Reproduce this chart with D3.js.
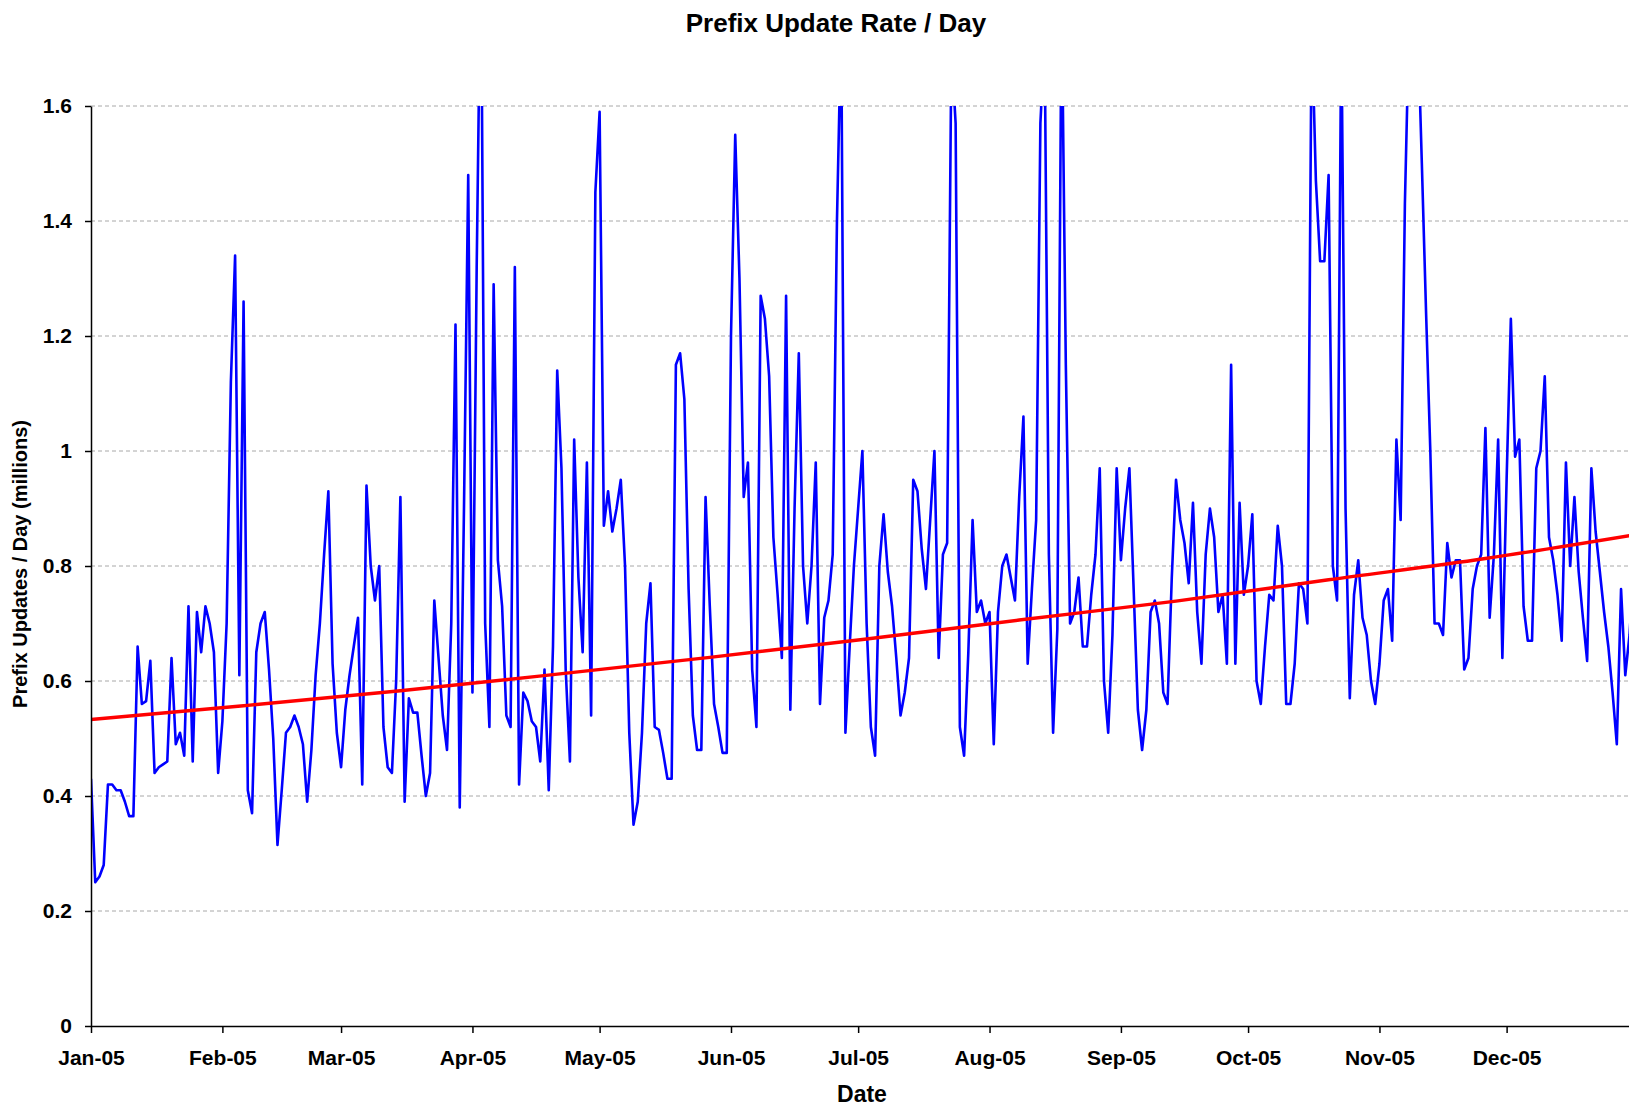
<!DOCTYPE html>
<html>
<head>
<meta charset="utf-8">
<script src="https://cdn.jsdelivr.net/npm/d3@7"></script>
<style>
  body { margin: 0; background: #fff; }
  svg { display: block; font-family: "Liberation Sans", Arial, sans-serif; }
</style>
</head>
<body>
<div id="chart"></div>
<script>
// chart texts
const chartTitle = 'Prefix Update Rate / Day'
const yTitle = 'Prefix Updates / Day (millions)'
const xTitle = 'Date'

// x axis: one tick per month
const startDay = '2005-01-01'
const monthLabels = ['Jan-05', 'Feb-05', 'Mar-05', 'Apr-05', 'May-05', 'Jun-05',
    'Jul-05', 'Aug-05', 'Sep-05', 'Oct-05', 'Nov-05', 'Dec-05']

// y axis
const yTicks = [0, 0.2, 0.4, 0.6, 0.8, 1, 1.2, 1.4, 1.6]
const yTickLabels = ['0', '0.2', '0.4', '0.6', '0.8', '1', '1.2', '1.4', '1.6']

// prefix updates per day (millions), one value per day from 1 Jan 2005
const dailyUpdates = [
    0.43, 0.25, 0.26, 0.28, 0.42, 0.42, 0.41, 0.41, 0.39, 0.365,   // Jan
    0.365, 0.66, 0.56, 0.565, 0.635, 0.44, 0.45, 0.455, 0.46, 0.64,
    0.49, 0.51, 0.47, 0.73, 0.46, 0.72, 0.65, 0.73, 0.70, 0.65,
    0.44,
    0.53, 0.70, 1.12, 1.34, 0.61, 1.26, 0.41, 0.37, 0.65, 0.70,   // Feb
    0.72, 0.62, 0.50, 0.315, 0.41, 0.51, 0.52, 0.54, 0.52, 0.49,
    0.39, 0.48, 0.61, 0.70, 0.82, 0.93, 0.63, 0.51,
    0.45, 0.55, 0.61, 0.66, 0.71, 0.42, 0.94, 0.80, 0.74, 0.80,   // Mar
    0.52, 0.45, 0.44, 0.60, 0.92, 0.39, 0.57, 0.545, 0.545, 0.47,
    0.40, 0.44, 0.74, 0.64, 0.54, 0.48, 0.70, 1.22, 0.38, 0.90,
    1.48,
    0.58, 1.32, 1.90, 0.70, 0.52, 1.29, 0.81, 0.73, 0.54, 0.52,   // Apr
    1.32, 0.42, 0.58, 0.565, 0.53, 0.52, 0.46, 0.62, 0.41, 0.66,
    1.14, 0.97, 0.62, 0.46, 1.02, 0.78, 0.65, 0.98, 0.54, 1.45,
    1.59, 0.87, 0.93, 0.86, 0.90, 0.95, 0.80, 0.51, 0.35, 0.39,   // May
    0.51, 0.70, 0.77, 0.52, 0.515, 0.475, 0.43, 0.43, 1.15, 1.17,
    1.09, 0.76, 0.54, 0.48, 0.48, 0.92, 0.73, 0.56, 0.52, 0.475,
    0.475,
    1.20, 1.55, 1.30, 0.92, 0.98, 0.62, 0.52, 1.27, 1.23, 1.13,   // Jun
    0.85, 0.75, 0.64, 1.27, 0.55, 0.90, 1.17, 0.80, 0.70, 0.80,
    0.98, 0.56, 0.71, 0.74, 0.82, 1.40, 1.75, 0.51, 0.66, 0.80,
    0.90, 1.00, 0.70, 0.52, 0.47, 0.80, 0.89, 0.79, 0.73, 0.64,   // Jul
    0.54, 0.58, 0.64, 0.95, 0.93, 0.83, 0.76, 0.88, 1.00, 0.64,
    0.82, 0.84, 1.70, 1.57, 0.52, 0.47, 0.65, 0.88, 0.72, 0.74,
    0.70,
    0.72, 0.49, 0.72, 0.80, 0.82, 0.78, 0.74, 0.92, 1.06, 0.63,   // Aug
    0.76, 0.88, 1.57, 1.72, 0.82, 0.51, 0.69, 1.80, 1.15, 0.70,
    0.72, 0.78, 0.66, 0.66, 0.75, 0.82, 0.97, 0.60, 0.51, 0.68,
    0.97,
    0.81, 0.90, 0.97, 0.76, 0.55, 0.48, 0.55, 0.72, 0.74, 0.70,   // Sep
    0.58, 0.56, 0.78, 0.95, 0.88, 0.84, 0.77, 0.91, 0.72, 0.63,
    0.82, 0.90, 0.85, 0.72, 0.75, 0.63, 1.15, 0.63, 0.91, 0.75,
    0.80, 0.89, 0.60, 0.56, 0.66, 0.75, 0.74, 0.87, 0.80, 0.56,   // Oct
    0.56, 0.63, 0.77, 0.76, 0.70, 1.75, 1.47, 1.33, 1.33, 1.48,
    0.80, 0.74, 1.75, 0.90, 0.57, 0.75, 0.81, 0.71, 0.68, 0.60,
    0.56,
    0.63, 0.74, 0.76, 0.67, 1.02, 0.88, 1.43, 1.75, 1.80, 1.75,   // Nov
    1.50, 1.24, 1.00, 0.70, 0.70, 0.68, 0.84, 0.78, 0.81, 0.81,
    0.62, 0.64, 0.76, 0.80, 0.82, 1.04, 0.71, 0.82, 1.02, 0.64,
    0.95, 1.23, 0.99, 1.02, 0.73, 0.67, 0.67, 0.97, 1.00, 1.13,   // Dec
    0.85, 0.81, 0.75, 0.67, 0.98, 0.80, 0.92, 0.79, 0.71, 0.635,
    0.97, 0.86, 0.79, 0.72, 0.66, 0.58, 0.49, 0.76, 0.61, 0.68,
    0.80
]

// trend line (day of year, value)
const trendDays = [0, 36, 73, 109, 146, 183, 219, 256, 292, 329, 364]
const trendValues = [0.533, 0.557, 0.583, 0.611, 0.641, 0.673, 0.706, 0.739, 0.776, 0.813, 0.854]

// set the dimensions and margins of the graph
const width = 1629, height = 1108
const margin = { top: 106, left: 91, bottom: 82 }
const plotWidth = 1547   // the year runs a little past the right edge of the picture
const plotHeight = height - margin.top - margin.bottom

const svg = d3.select('#chart')
    .append('svg')
    .attr('width', width)
    .attr('height', height)

svg.append('rect')
    .attr('width', width)
    .attr('height', height)
    .attr('fill', '#fff')

const t0 = d3.timeParse('%Y-%m-%d')(startDay)
const dates = dailyUpdates.map((v, i) => d3.timeDay.offset(t0, i))

const x = d3.scaleTime()
    .domain([t0, d3.timeYear.offset(t0, 1)])
    .range([margin.left, margin.left + plotWidth])

const y = d3.scaleLinear()
    .domain([0, 1.6])
    .range([margin.top + plotHeight, margin.top])

// grid lines
svg.append('g')
    .selectAll('line')
    .data(yTicks.filter(d => d > 0))
    .enter()
    .append('line')
    .attr('x1', margin.left)
    .attr('x2', width)
    .attr('y1', d => y(d))
    .attr('y2', d => y(d))
    .attr('stroke', '#a8a8a8')
    .attr('stroke-width', 1)
    .attr('stroke-dasharray', '4,3')

// clip the series to the plot area
svg.append('clipPath')
    .attr('id', 'plot-clip')
    .append('rect')
    .attr('x', margin.left)
    .attr('y', margin.top)
    .attr('width', plotWidth)
    .attr('height', plotHeight)

const line = d3.line()
    .x((d, i) => x(dates[i]))
    .y(d => y(d))

svg.append('path')
    .datum(dailyUpdates)
    .attr('clip-path', 'url(#plot-clip)')
    .attr('fill', 'none')
    .attr('stroke', '#0000ff')
    .attr('stroke-width', 2.6)
    .attr('stroke-linejoin', 'round')
    .attr('d', line)

const trendLine = d3.line()
    .curve(d3.curveMonotoneX)
    .x((d, i) => x(d3.timeDay.offset(t0, trendDays[i])))
    .y(d => y(d))

svg.append('path')
    .datum(trendValues)
    .attr('clip-path', 'url(#plot-clip)')
    .attr('fill', 'none')
    .attr('stroke', '#ff0000')
    .attr('stroke-width', 3.4)
    .attr('d', trendLine)

// X axis
const monthDates = d3.timeMonth.range(t0, d3.timeYear.offset(t0, 1))
svg.append('g')
    .attr('transform', 'translate(0,' + (margin.top + plotHeight) + ')')
    .call(d3.axisBottom(x)
        .tickValues(monthDates)
        .tickFormat((d, i) => monthLabels[i])
        .tickSize(7)
        .tickSizeOuter(0)
        .tickPadding(17))

// Y axis
svg.append('g')
    .attr('transform', 'translate(' + margin.left + ',0)')
    .call(d3.axisLeft(y)
        .tickValues(yTicks)
        .tickFormat((d, i) => yTickLabels[i])
        .tickSize(6)
        .tickSizeOuter(0)
        .tickPadding(13))

svg.selectAll('.tick text')
    .attr('font-family', '"Liberation Sans", Arial, sans-serif')
    .attr('font-size', 21)
    .attr('font-weight', 'bold')
    .attr('fill', '#000')
svg.selectAll('.domain, .tick line')
    .attr('stroke', '#000')
    .attr('stroke-width', 1.5)

// titles
svg.append('text')
    .attr('x', 836)
    .attr('y', 32)
    .attr('text-anchor', 'middle')
    .attr('font-size', 26)
    .attr('font-weight', 'bold')
    .text(chartTitle)

svg.append('text')
    .attr('x', 862)
    .attr('y', 1102)
    .attr('text-anchor', 'middle')
    .attr('font-size', 23)
    .attr('font-weight', 'bold')
    .text(xTitle)

svg.append('text')
    .attr('transform', 'translate(27,564) rotate(-90)')
    .attr('text-anchor', 'middle')
    .attr('font-size', 20)
    .attr('font-weight', 'bold')
    .text(yTitle)
</script>
</body>
</html>
